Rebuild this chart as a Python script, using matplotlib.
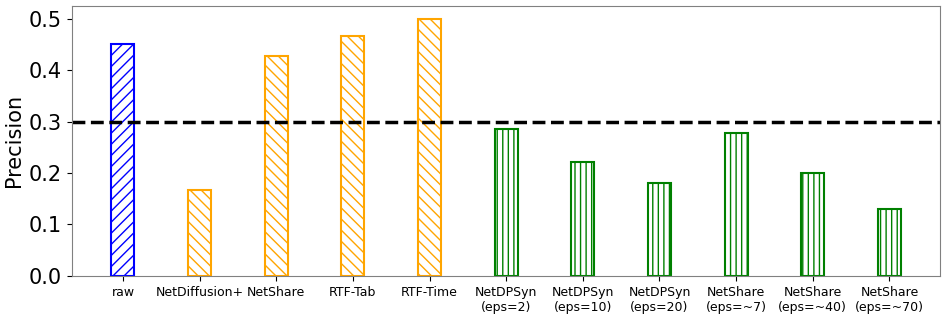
import matplotlib.pyplot as plt

labels = ['raw', 'NetDiffusion+', 'NetShare', 'RTF-Tab', 'RTF-Time',
          'NetDPSyn\n(eps=2)', 'NetDPSyn\n(eps=10)', 'NetDPSyn\n(eps=20)',
          'NetShare\n(eps=~7)', 'NetShare\n(eps=~40)', 'NetShare\n(eps=~70)']
precision = [0.451, 0.167, 0.428, 0.467, 0.500,
             0.286, 0.222, 0.181, 0.278, 0.200, 0.130]
colors = ['blue'] + ['orange'] * 4 + ['green'] * 6
hatches = ['///'] + ['\\\\\\'] * 4 + ['|||'] * 6
threshold = 0.3

plt.rcParams['hatch.linewidth'] = 1.0

fig = plt.figure(figsize=(9.47, 3.17), dpi=100)
ax = fig.add_subplot()
fig.subplots_adjust(left=0.076, right=0.993, top=0.981, bottom=0.13)

x = list(range(len(labels)))
for i in x:
    ax.bar(i, precision[i], width=0.3, color='white', edgecolor=colors[i],
           hatch=hatches[i], linewidth=1.5)

ax.axhline(threshold, color='black', linestyle='--', linewidth=2.5)
ax.set_ylim(0, 0.525)
ax.set_xticks(x)
ax.set_xticklabels(labels, fontsize=9)
ax.tick_params(axis='y', labelsize=15)
ax.set_ylabel('Precision', fontsize=15)
for s in ax.spines.values():
    s.set_color('gray')

fig.savefig('out.png', dpi=100)
